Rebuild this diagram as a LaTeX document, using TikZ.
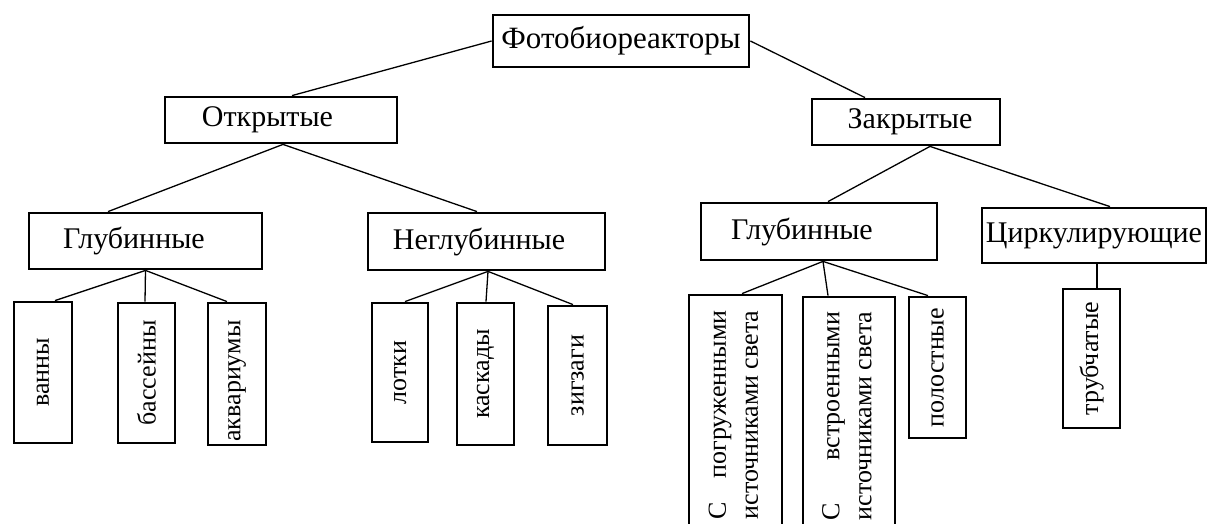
\documentclass[tikz,border=0pt]{standalone}
\usepackage{fontspec}
\usepackage{graphicx}
\setmainfont{Liberation Serif}
\usetikzlibrary{calc}

% two-line label whose first line is spread to the width of the second
\newlength\pairlen
\newcommand\pairlines[2]{\settowidth\pairlen{#2}\begin{tabular}{@{}l@{}}\hbox to\pairlen{#1}\\#2\end{tabular}}

\begin{document}
\begin{tikzpicture}[x=1pt,y=-1pt,
  box/.style={draw, line width=2.8pt, inner sep=0pt, font=\fontsize{30}{34}\selectfont},
  leaf/.style={box, font=\fontsize{26}{32}\selectfont},
  link/.style={line width=1.3pt}]
\useasboundingbox (0,0) rectangle (1208,524);
\clip (0,0) rectangle (1208,524);

% top level
\node[box, minimum width=256, minimum height=52, font=\fontsize{31}{34}\selectfont] (root) at (621,41) {Фотобиореакторы};

% second level
\node[box, minimum width=232, minimum height=46] (open) at (281,120) {Открытые\kern27pt};
\node[box, minimum width=188, minimum height=46] (closed) at (906,122) {\kern8pt Закрытые};

% third level
\node[box, minimum width=233, minimum height=56] (glL) at (145.5,241) {Глубинные\kern23pt};
\node[box, minimum width=237, minimum height=57] (negl) at (486.5,241.5) {Неглубинные\kern15pt};
\node[box, minimum width=236, minimum height=57] (glR) at (819,231.5) {Глубинные\kern34pt};
\node[box, minimum width=224, minimum height=55] (circ) at (1094,235.5) {Циркулирующие};

% leaves
\node[leaf, minimum width=58, minimum height=141] (vann) at (43,372.5) {\rotatebox{90}{ванны}};
\node[leaf, minimum width=57, minimum height=140] (bass) at (146.5,373) {\rotatebox{90}{бассейны}};
\node[leaf, minimum width=58, minimum height=142] (akv) at (237,374) {\rotatebox{90}{аквариумы\kern14pt}};

\node[leaf, minimum width=56, minimum height=139] (lotk) at (400,372.5) {\rotatebox{90}{лотки}};
\node[leaf, minimum width=57, minimum height=142] (kask) at (485.5,374) {\rotatebox{90}{каскады}};
\node[leaf, minimum width=59, minimum height=139] (zigz) at (577.5,375.5) {\rotatebox{90}{зигзаги}};

\node[leaf, minimum width=93, minimum height=240] (pogr) at (735.5,415) {\rotatebox{90}{\pairlines{С\hfill погруженными}{источниками света}}};
\node[leaf, minimum width=92, minimum height=238] (vstr) at (849,416) {\rotatebox{90}{\pairlines{С\hfill встроенными}{источниками света}}};
\node[leaf, minimum width=57, minimum height=141] (polo) at (937.5,367.5) {\rotatebox{90}{полостные}};

\node[leaf, minimum width=57, minimum height=139] (trub) at (1091.5,358.5) {\rotatebox{90}{трубчатые}};

% connectors
\draw[link] (root.west) -- ([xshift=11]open.north);
\draw[link] (root.east) -- ([xshift=-41]closed.north);

\draw[link] ([xshift=2]open.south) -- ([xshift=-37.5]glL.north);
\draw[link] ([xshift=2]open.south) -- ([xshift=-9.5]negl.north);
\draw[link] ([xshift=24]closed.south) -- ([xshift=9]glR.north);
\draw[link] ([xshift=24]closed.south) -- ([xshift=16]circ.north);

\draw[link] (glL.south) -- ([xshift=12]vann.north);
\draw[link] (glL.south) -- ([xshift=-1.5]bass.north);
\draw[link] (glL.south) -- ([xshift=-10]akv.north);

\draw[link] ([xshift=1.5]negl.south) -- ([xshift=5]lotk.north);
\draw[link] ([xshift=1.5]negl.south) -- ([xshift=0.5]kask.north);
\draw[link] ([xshift=1.5]negl.south) -- ([xshift=-4.5]zigz.north);

\draw[link] ([xshift=4]glR.south) -- ([xshift=6.5]pogr.north);
\draw[link] ([xshift=4]glR.south) -- ([xshift=-21]vstr.north);
\draw[link] ([xshift=4]glR.south) -- ([xshift=-9.5]polo.north);

\draw[link] ([xshift=3]circ.south) -- ([xshift=5.5]trub.north);
\end{tikzpicture}
\end{document}
